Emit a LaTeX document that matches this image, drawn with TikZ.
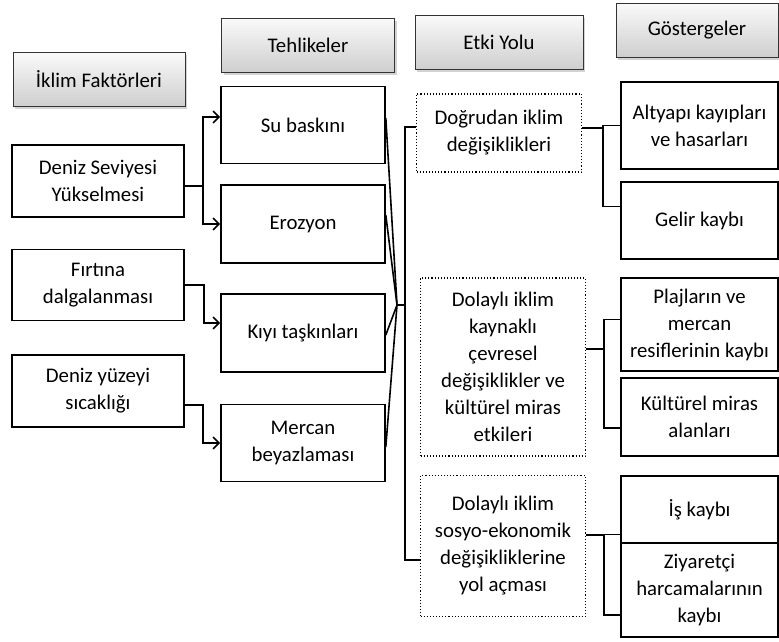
\documentclass[tikz,border=0pt]{standalone}
\usepackage{fontspec}
\setmainfont{Carlito}
\usetikzlibrary{arrows.meta,shadows}

\tikzset{
  baslik/.style={draw=black!80, line width=0.9pt, top color=gray!4, bottom color=gray!38,
    drop shadow={shadow xshift=2pt, shadow yshift=-3pt, opacity=0.35},
    minimum height=54pt, align=center, inner sep=2pt},
  kutu/.style={draw, line width=1.6pt, fill=white, align=center, inner sep=2pt},
  nokta/.style={draw, dotted, line width=1.1pt, align=center, inner sep=2pt},
  cizgi/.style={line width=1.6pt},
  ok/.style={line width=1.6pt, -{Straight Barb[length=6pt,width=12pt,line width=1.6pt]}}
}

\begin{document}
\begin{tikzpicture}[x=1pt, y=-1pt, font=\fontsize{20.8}{27}\selectfont]
\useasboundingbox (0,0) rectangle (779,641);
% column headers
\node[baslik, minimum width=172pt] (iklim)    at (99,79)  {İklim Faktörleri};
\node[baslik, minimum width=173pt] (tehlike)  at (308,45) {Tehlikeler};
\node[baslik, minimum width=168pt] (etki)     at (499,42) {Etki Yolu};
\node[baslik, minimum width=162pt] (gosterge) at (697,30) {Göstergeler};
% climate factors
\node[kutu, minimum width=172pt, minimum height=72pt] (deniz)   at (98,181) {Deniz Seviyesi\\Yükselmesi};
\node[kutu, minimum width=172pt, minimum height=71pt] (firtina) at (98,285) {Fırtına\\dalgalanması};
\node[kutu, minimum width=172pt, minimum height=72pt] (sicak)   at (98,391) {Deniz yüzeyi\\sıcaklığı};
% hazards
\node[kutu, minimum width=164pt, minimum height=77pt] (su)      at (303,125) {Su baskını};
\node[kutu, minimum width=164pt, minimum height=78pt] (erozyon) at (303,224) {Erozyon};
\node[kutu, minimum width=164pt, minimum height=78pt] (kiyi)    at (303,333) {Kıyı taşkınları};
\node[kutu, minimum width=164pt, minimum height=77pt] (mercan)  at (303,443) {Mercan\\beyazlaması};
% impact pathways
\node[nokta, minimum width=165pt, minimum height=78pt]  (dogru)   at (499,133) {Doğrudan iklim\\değişiklikleri};
\node[nokta, minimum width=165pt, minimum height=178pt] (dolayli) at (503,367) {Dolaylı iklim\\kaynaklı\\çevresel\\değişiklikler ve\\kültürel miras\\etkileri};
\node[nokta, minimum width=165pt, minimum height=141pt] (sosyo)   at (503,546) {Dolaylı iklim\\sosyo-ekonomik\\değişikliklerine\\yol açması};
% indicators
\node[kutu, minimum width=157pt, minimum height=87pt] (altyapi) at (699.5,125.5) {Altyapı kayıpları\\ve hasarları};
\node[kutu, minimum width=157pt, minimum height=77pt] (gelir)   at (699.5,220.5) {Gelir kaybı};
\node[kutu, minimum width=157pt, minimum height=93pt] (plaj)    at (699.5,324.5) {Plajların ve\\mercan\\resiflerinin kaybı};
\node[kutu, minimum width=157pt, minimum height=78pt] (kultur)  at (699.5,417)   {Kültürel miras\\alanları};
\node[kutu, minimum width=157pt, minimum height=67pt] (is)      at (699.5,509.5) {İş kaybı};
\node[kutu, minimum width=157pt, minimum height=94pt] (ziyaret) at (699.5,590)   {Ziyaretçi\\harcamalarının\\kaybı};
% factors to hazards
\coordinate (b1) at (203,186);
\draw[ok] ([yshift=-5pt]deniz.east) -- (b1) |- ([yshift=8pt]su.west);
\draw[ok] (b1) |- (erozyon.west);
\draw[ok] (firtina.east) -- ++(19,0) |- ([yshift=10pt]kiyi.west);
\draw[ok] ([yshift=-14pt]sicak.east) -- ++(18,0) |- (mercan.west);
% hazards to pathways
\coordinate (kavsak) at (397,305);
\coordinate (omurga) at (405,305);
\draw[cizgi] ([yshift=7pt]su.east)      -- (kavsak);
\draw[cizgi] ([yshift=9pt]erozyon.east) -- (kavsak);
\draw[cizgi] ([yshift=-2pt]kiyi.east)   -- (kavsak);
\draw[cizgi] ([yshift=-4pt]mercan.east) -- (kavsak);
\draw[cizgi] (kavsak) -- (omurga);
\draw[cizgi] ([yshift=6pt]dogru.west) -| (omurga) |- ([yshift=-14pt]sosyo.west);
% pathways to indicators
\coordinate (c1) at (603,128);
\coordinate (c2) at (604,349);
\coordinate (c3) at (604,535);
\draw[cizgi] ([yshift=5pt]dogru.east) -- (c1) |- (altyapi.west);
\draw[cizgi] (c1) |- ([yshift=14pt]gelir.west);
\draw[cizgi] ([yshift=18pt]dolayli.east) -- (c2);
\draw[cizgi] ([yshift=5pt]plaj.west) -| (c2) |- ([yshift=-11pt]kultur.west);
\draw[cizgi] ([yshift=11pt]sosyo.east) -- (c3) |- ([yshift=-25pt]is.west);
\draw[cizgi] (c3) |- ([yshift=-25pt]ziyaret.west);
\end{tikzpicture}
\end{document}
